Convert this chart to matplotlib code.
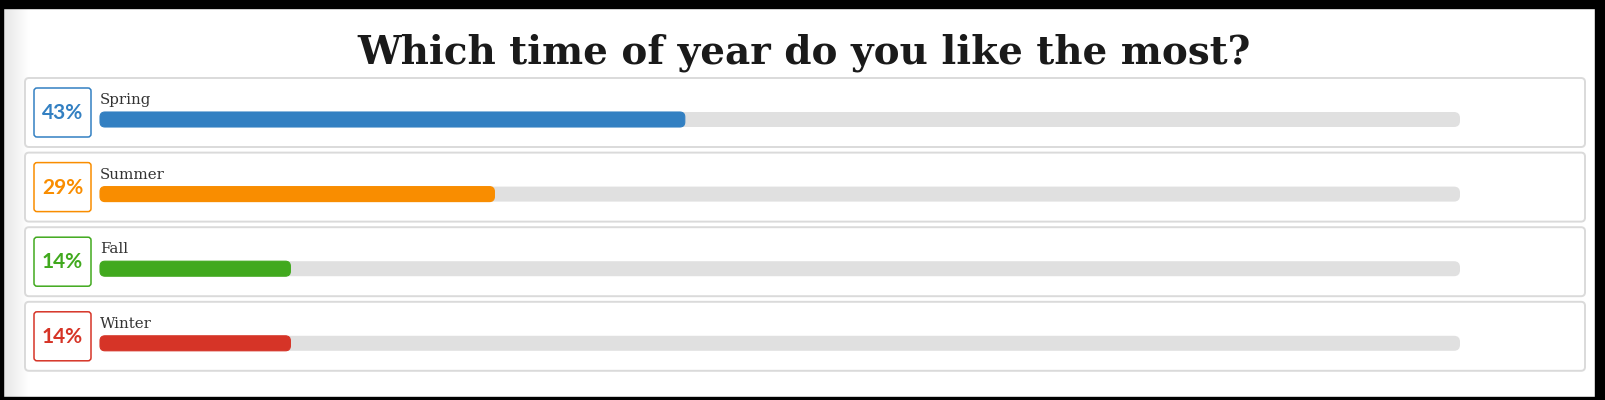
import matplotlib
matplotlib.use("Agg")
import matplotlib.pyplot as plt
from matplotlib.patches import FancyBboxPatch, Rectangle
import numpy as np

# ---- data ----
title = "Which time of year do you like the most?"
categories = ["Spring", "Summer", "Fall", "Winter"]
percents = [43, 29, 14, 14]
colors = ["#3380C2", "#F98D00", "#41A91E", "#D63427"]

W, H = 1605, 400
fig = plt.figure(figsize=(W / 100, H / 100), dpi=100)
ax = fig.add_axes([0, 0, 1, 1])
ax.set_xlim(0, W)
ax.set_ylim(H, 0)
ax.axis("off")
fig.patch.set_facecolor("white")

# left soft shadow
grad = np.linspace(0.90, 1.0, 64)[None, :]
ax.imshow(np.repeat(grad, 2, axis=0), cmap="gray", vmin=0, vmax=1,
          extent=[3, 30, 397, 8], aspect="auto", zorder=0, interpolation="bilinear")

# black frame
ax.add_patch(Rectangle((0, 0), W, 8, color="black", zorder=10))
ax.add_patch(Rectangle((0, 0), 3, H, color="black", zorder=10))
ax.add_patch(Rectangle((1595, 0), 10, H, color="black", zorder=10))
ax.add_patch(Rectangle((0, 397), W, 3, color="black", zorder=10))

ax.text(804, 63, title, ha="center", va="baseline", fontsize=28,
        fontweight="bold", family="DejaVu Serif", color="#1a1a1a")

panel_x0, panel_x1 = 25, 1585
panel_top0, panel_step, panel_h = 78, 74.6, 69
track_x0, track_x1 = 100, 1460
track_w = track_x1 - track_x0

for i, (cat, p, c) in enumerate(zip(categories, percents, colors)):
    top = panel_top0 + i * panel_step
    ax.add_patch(FancyBboxPatch((panel_x0, top), panel_x1 - panel_x0, panel_h,
                                boxstyle="round,pad=0,rounding_size=4",
                                facecolor="white", edgecolor="#DADADA", lw=1.4, zorder=1))
    # percentage box
    ax.add_patch(FancyBboxPatch((34, top + 10), 57, 49,
                                boxstyle="round,pad=0,rounding_size=3",
                                facecolor="white", edgecolor=c, lw=1.1, zorder=2))
    ax.text(62.5, top + 41.3, f"{p}%", ha="center", va="baseline", fontsize=15,
            family="Lato", fontweight="bold", color=c, zorder=3)
    # label
    ax.text(track_x0, top + 26, cat, ha="left", va="baseline", fontsize=10.8,
            family="DejaVu Serif", color="#333333", zorder=3)
    # track
    ax.add_patch(FancyBboxPatch((track_x0, top + 34), track_w, 15,
                                boxstyle="round,pad=0,rounding_size=6",
                                facecolor="#E0E0E0", edgecolor="none", zorder=2))
    # bar
    ax.add_patch(FancyBboxPatch((track_x0, top + 34), p / 100 * track_w, 15,
                                boxstyle="round,pad=0,rounding_size=5",
                                facecolor=c, edgecolor=c, lw=0.8, zorder=3))

fig.savefig("out.png", dpi=100)
